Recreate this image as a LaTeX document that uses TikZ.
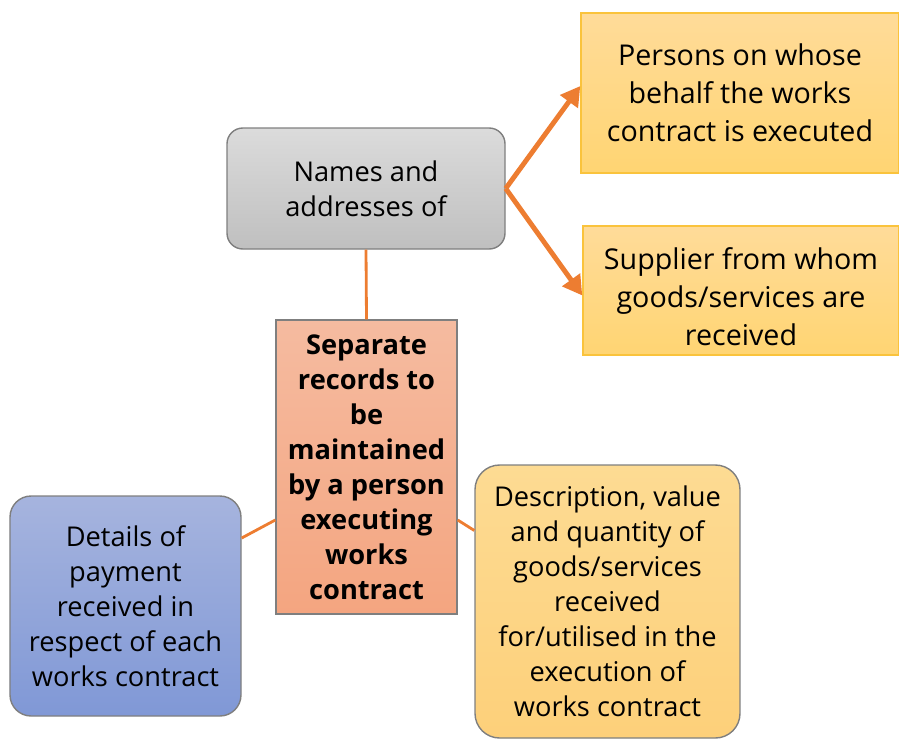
\documentclass[tikz,border=0pt]{standalone}
\usepackage{fontspec}
\setmainfont{Open Sans}
\usepackage{tikz}
\usetikzlibrary{positioning,arrows.meta}

\definecolor{linkorange}{HTML}{ED7D31}
\definecolor{edgegray}{HTML}{7F7F7F}
\definecolor{edgegold}{HTML}{FAC33C}

\begin{document}
\begin{tikzpicture}[font=\fontsize{15.5}{19.9}\selectfont]
    \tikzstyle{box}=[draw=edgegray, line width=0.8pt, align=center, inner sep=0pt];
    \tikzstyle{gray box}=[box, rounded corners=9pt, top color=black!14, bottom color=black!25];
    \tikzstyle{gold box}=[box, draw=edgegold, font=\fontsize{16.3}{21.6}\selectfont, top color=yellow!30!orange!40, bottom color=yellow!40!orange!55];
    \tikzstyle{salmon box}=[box, top color={rgb,255:red,245;green,187;blue,160}, bottom color={rgb,255:red,244;green,165;blue,128}];
    \tikzstyle{blue box}=[box, rounded corners=12pt, top color={rgb,255:red,166;green,180;blue,222}, bottom color={rgb,255:red,128;green,152;blue,214}];
    \tikzstyle{desc box}=[box, rounded corners=14pt, top color={rgb,255:red,253;green,219;blue,147}, bottom color={rgb,255:red,253;green,208;blue,122}];
    \tikzstyle{link}=[draw=linkorange, line width=1.6pt];
    \tikzstyle{branch}=[draw=linkorange, line width=2.8pt, -{Triangle[width=12pt,length=11pt]}];

    \useasboundingbox (0,0) rectangle (17.98,-14.8);

    % Draw the boxes
    \node[gray box, minimum width=5.56cm, minimum height=2.42cm] (names) at (7.32,-3.77)
      {Names and\\addresses of};
    \node[gold box, minimum width=6.36cm, minimum height=3.2cm] (persons) at (14.8,-1.86)
      {Persons on whose\\behalf the works\\contract is executed};
    \node[gold box, minimum width=6.32cm, minimum height=2.58cm] (supplier) at (14.82,-5.81)
      {\rule{0pt}{20pt}Supplier from whom\\goods/services are\\received};
    \node[salmon box, minimum width=3.62cm, minimum height=5.88cm, font=\fontsize{15.5}{19.9}\selectfont\bfseries] (records) at (7.33,-9.34)
      {Separate\\records to\\be\\maintained\\by a person\\executing\\works\\contract};
    \node[blue box, minimum width=4.62cm, minimum height=4.4cm] (details) at (2.51,-12.12)
      {Details of\\payment\\received in\\respect of each\\works contract};
    \node[desc box, minimum width=5.3cm, minimum height=5.46cm] (desc) at (12.15,-12.03)
      {Description, value\\and quantity of\\goods/services\\received\\for/utilised in the\\execution of\\works contract};

    % Connect the centre box with the other boxes
    \draw[link] (names.south) -- (records.north);
    \draw[link] ([yshift=-1.06cm]records.west) -- ([yshift=1.36cm]details.east);
    \draw[link] ([yshift=-1.06cm]records.east) -- ([yshift=1.42cm]desc.west);

    % Arrows to the two kinds of persons
    \draw[branch] (names.east) -- ([yshift=0.14cm]persons.west);
    \draw[branch] (names.east) -- ([yshift=-0.1cm]supplier.west);
\end{tikzpicture}
\end{document}
